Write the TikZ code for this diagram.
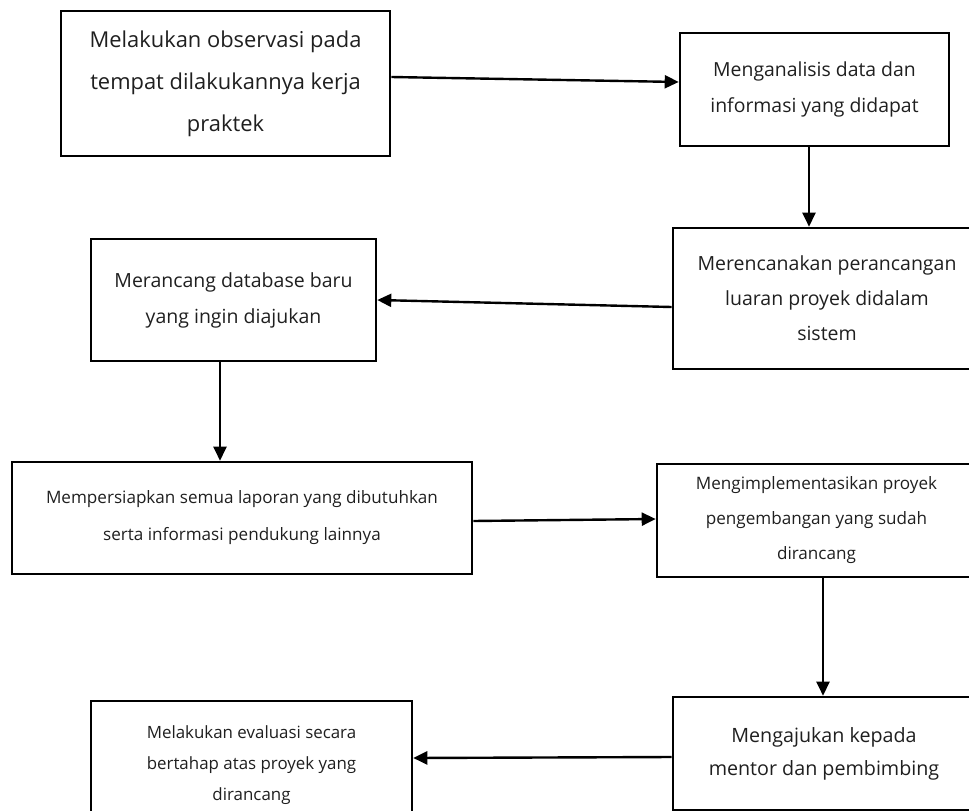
\documentclass[tikz,border=0pt]{standalone}
\usepackage{fontspec}
\setmainfont{Open Sans}
\usetikzlibrary{arrows.meta}
\tikzset{
  x=1pt, y=1pt,
  box/.style={draw, line width=2.6pt, align=center, inner sep=0pt, text=black!88},
  arr/.style={line width=2.4pt, -{Triangle[length=14pt,width=13pt]}},
}
\newcommand{\fs}[2]{\fontsize{#1}{#2}\selectfont}
\begin{document}
\begin{tikzpicture}
\useasboundingbox (0,0) rectangle (969,-811);
\clip (0,0) rectangle (969,-811);
\node[box, minimum width=329, minimum height=145, font=\fs{21.9}{42}] (b1) at (225.5,-83.5)
  {Melakukan observasi pada\\tempat dilakukannya kerja\\praktek};
\node[box, minimum width=269, minimum height=113, font=\fs{19.4}{36}] (b2) at (814.5,-89.5)
  {Menganalisis data dan\\informasi yang didapat};
\node[box, minimum width=308, minimum height=141, font=\fs{19.5}{35}] (b3) at (827,-298.5)
  {Merencanakan perancangan\\luaran proyek didalam\\sistem};
\node[box, minimum width=285, minimum height=122, font=\fs{19.5}{36}] (b4) at (233.5,-300)
  {Merancang database baru\\yang ingin diajukan};
\node[box, minimum width=460, minimum height=112, font=\fs{17.1}{37}] (b5) at (242,-518)
  {Mempersiapkan semua laporan yang dibutuhkan\\serta informasi pendukung lainnya};
\node[box, minimum width=319, minimum height=113, font=\fs{17.1}{35}] (b6) at (816.5,-520.5)
  {Mengimplementasikan proyek\\pengembangan yang sudah\\dirancang};
\node[box, minimum width=302, minimum height=113, font=\fs{19.7}{33}] (b7) at (824,-753.5)
  {Mengajukan kepada\\mentor dan pembimbing};
\node[box, minimum width=321, minimum height=129, font=\fs{16.9}{31}] (b8) at (251.5,-765.5)
  {Melakukan evaluasi secara\\bertahap atas proyek yang\\dirancang};
\draw[arr] ([yshift=6.5]b1.east) -- ([yshift=7.5]b2.west);
\draw[arr] ([xshift=-5.5]b2.south) -- ([xshift=-18]b3.north);
\draw[arr] ([yshift=-8.5]b3.west) -- (b4.east);
\draw[arr] ([xshift=-13.5]b4.south) -- ([xshift=-22]b5.north);
\draw[arr] ([yshift=-3]b5.east) -- ([yshift=1.5]b6.west);
\draw[arr] ([xshift=6.5]b6.south) -- ([xshift=-1]b7.north);
\draw[arr] ([yshift=-3.5]b7.west) -- ([yshift=7.5]b8.east);
\end{tikzpicture}
\end{document}
